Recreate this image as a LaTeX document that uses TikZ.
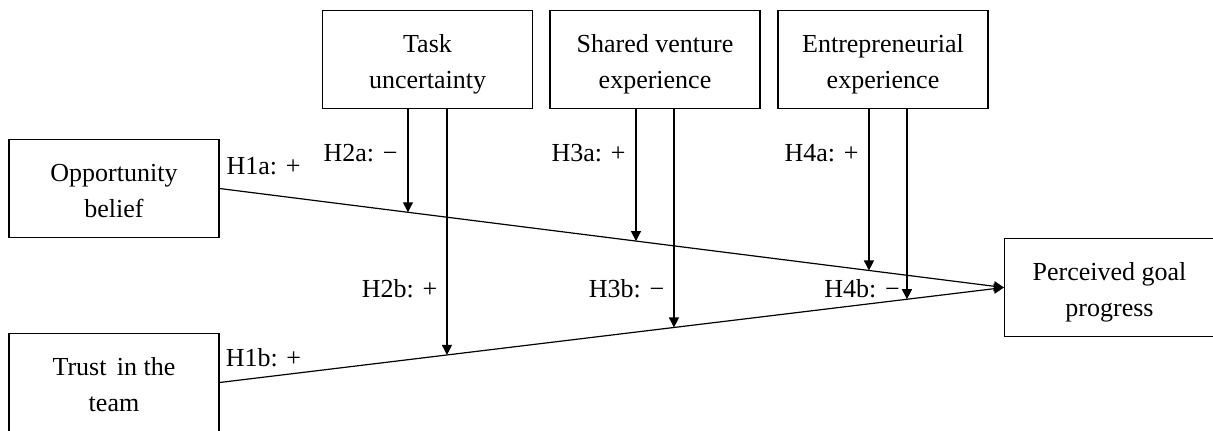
\documentclass[tikz,border=0pt]{standalone}
\usepackage{fontspec}
\setmainfont{Liberation Serif}
\usetikzlibrary{arrows.meta}
% two centred lines, set a little low in their box
\newcommand\twolines[1]{\raisebox{-2pt}[\height][\depth]{\begin{tabular}{@{}c@{}}#1\end{tabular}}}
\begin{document}
\begin{tikzpicture}[x=0.5pt,y=-0.5pt,
  font=\fontsize{13}{18}\selectfont,
  box/.style={draw, line width=0.6pt, rectangle,
              minimum width=105pt, minimum height=49pt, inner sep=0pt},
  lab/.style={inner sep=0pt, anchor=center},
  link/.style={line width=0.6pt, -{Triangle[length=5pt,width=5pt]}}]
\useasboundingbox (0,0) rectangle (1213,430);
\clip (0,0) rectangle (1213,430);

% constructs
\node[box] (opp)   at (114,188.5)  {\twolines{Opportunity\\belief}};
\node[box] (trust) at (114,382.5)  {\twolines{Trust\hspace{0.4em}in the\\team}};
\node[box] (tu)    at (427.5,59.5) {\twolines{Task\\uncertainty}};
\node[box] (sve)   at (655,59.5)   {\twolines{Shared venture\\experience}};
\node[box] (ee)    at (883,59.5)   {\twolines{Entrepreneurial\\experience}};
\node[box] (pgp)   at (1109.5,287.5) {\twolines{Perceived goal\\progress}};

% main effects
\draw[link] (opp.east) -- (pgp.west);
\draw[link] (trust.east) -- (pgp.west);

% landing points of the moderating arrows
\coordinate (m2a) at (intersection of opp.east--pgp.west and 408,0--408,430);
\coordinate (m2b) at (intersection of trust.east--pgp.west and 447,0--447,430);
\coordinate (m3a) at (intersection of opp.east--pgp.west and 636,0--636,430);
\coordinate (m3b) at (intersection of trust.east--pgp.west and 674,0--674,430);
\coordinate (m4a) at (intersection of opp.east--pgp.west and 869,0--869,430);
\coordinate (m4b) at (intersection of trust.east--pgp.west and 907,0--907,430);

% moderating effects
\draw[link] (tu.south -| m2a) -- (m2a);
\draw[link] (tu.south -| m2b) -- (m2b);
\draw[link] (sve.south -| m3a) -- (m3a);
\draw[link] (sve.south -| m3b) -- (m3b);
\draw[link] (ee.south -| m4a) -- (m4a);
\draw[link] (ee.south -| m4b) -- (m4b);

% hypothesis labels
\node[lab] (h1a) at (263.5,166) {H1a: +};
\node[lab] (h1b) at (263.5,358) {H1b: +};
\node[lab] (h2a) at (360.5,153) {H2a: −};
\node[lab] (h2b) at (399.5,289) {H2b: +};
\node[lab] (h3a) at (588.5,153) {H3a: +};
\node[lab] (h3b) at (626.5,289) {H3b: −};
\node[lab] (h4a) at (821.5,153) {H4a: +};
\node[lab] (h4b) at (862,289)   {H4b: −};
\end{tikzpicture}
\end{document}
